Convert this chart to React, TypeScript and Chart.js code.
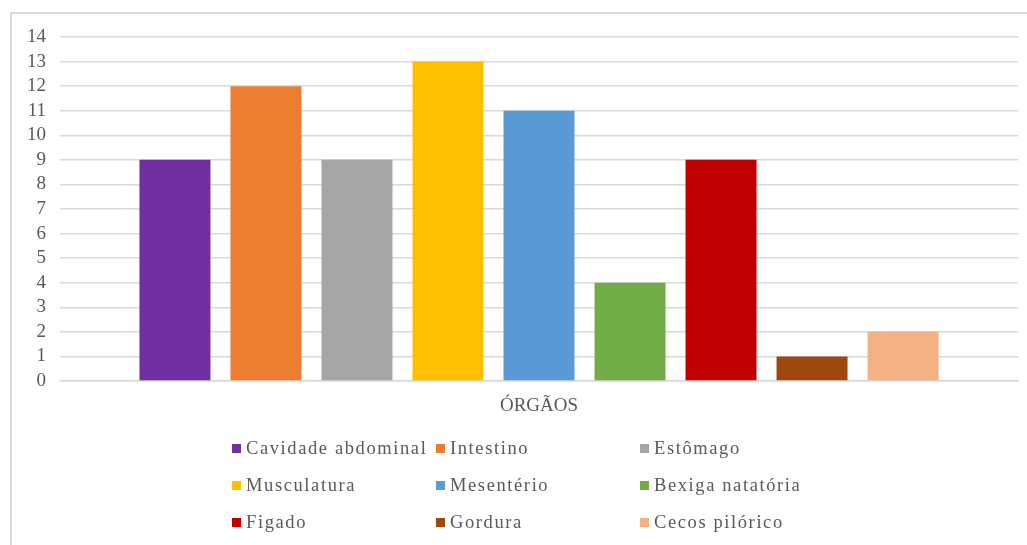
import React, { useEffect, useRef } from "react";
import { Chart, registerables } from "chart.js";

Chart.register(...registerables);

const categories = ["ÓRGÃOS"];
const seriesNames = [
  "Cavidade abdominal",
  "Intestino",
  "Estômago",
  "Musculatura",
  "Mesentério",
  "Bexiga natatória",
  "Figado",
  "Gordura",
  "Cecos pilórico",
];
const seriesValues = [9, 12, 9, 13, 11, 4, 9, 1, 2];
const seriesColors = [
  "#7030A0",
  "#ED7D31",
  "#A5A5A5",
  "#FFC000",
  "#5B9BD5",
  "#70AD47",
  "#C00000",
  "#9E480E",
  "#F4B183",
];
const yMin = 0;
const yMax = 14;
const yStep = 1;

const FONT = "'Liberation Serif', 'Times New Roman', serif";
const TEXT = "#595959";
const GRID = "#d9d9d9";

export default function App() {
  const canvasRef = useRef<HTMLCanvasElement | null>(null);

  useEffect(() => {
    const canvas = canvasRef.current;
    if (!canvas) return;
    const chart = new Chart(canvas, {
      type: "bar",
      data: {
        labels: categories,
        datasets: seriesNames.map((name, i) => ({
          label: name,
          data: [seriesValues[i]],
          backgroundColor: seriesColors[i],
          borderWidth: 0,
          categoryPercentage: 0.855,
          barPercentage: 0.78,
        })),
      },
      options: {
        animation: false,
        responsive: false,
        maintainAspectRatio: false,
        layout: { padding: { left: 10, top: 37, right: 9, bottom: 119 } },
        plugins: {
          legend: { display: false },
          tooltip: { enabled: false },
          title: { display: false },
        },
        scales: {
          x: {
            grid: { display: false, drawTicks: false },
            border: { display: true, color: GRID, width: 1.5 },
            ticks: {
              color: TEXT,
              font: { family: FONT, size: 19 },
              padding: 14,
            },
            afterFit: (s: any) => {
              s.height = 45;
            },
          },
          y: {
            min: yMin,
            max: yMax,
            grid: { color: GRID, lineWidth: 1.5, drawTicks: false },
            border: { display: false },
            ticks: {
              stepSize: yStep,
              autoSkip: false,
              color: TEXT,
              font: { family: FONT, size: 19 },
              padding: 14,
            },
            afterFit: (s: any) => {
              s.width = 50;
            },
          },
        },
      },
    });
    return () => chart.destroy();
  }, []);

  return (
    <div
      style={{
        position: "absolute",
        left: 0,
        top: 0,
        width: 1027,
        height: 545,
        overflow: "hidden",
        background: "#fff",
      }}
    >
      <div
        style={{
          position: "absolute",
          left: 10,
          top: 12,
          width: 1100,
          height: 700,
          border: `2px solid ${GRID}`,
          boxSizing: "border-box",
        }}
      />
      <canvas
        ref={canvasRef}
        width={1027}
        height={545}
        style={{ position: "absolute", left: 0, top: 0, width: 1027, height: 545 }}
      />
      <div
        style={{
          position: "absolute",
          left: 232,
          top: 430,
          display: "grid",
          gridTemplateColumns: "204px 204px 204px",
          gridAutoRows: "37px",
          fontFamily: FONT,
          fontSize: 18.5,
          color: TEXT,
          letterSpacing: "1.6px",
        }}
      >
        {seriesNames.map((name, i) => (
          <div
            key={name}
            style={{ display: "flex", alignItems: "center", whiteSpace: "nowrap" }}
          >
            <span
              style={{
                display: "inline-block",
                width: 9,
                height: 9,
                background: seriesColors[i],
                marginRight: 5,
                flex: "none",
              }}
            />
            <span>{name}</span>
          </div>
        ))}
      </div>
    </div>
  );
}
